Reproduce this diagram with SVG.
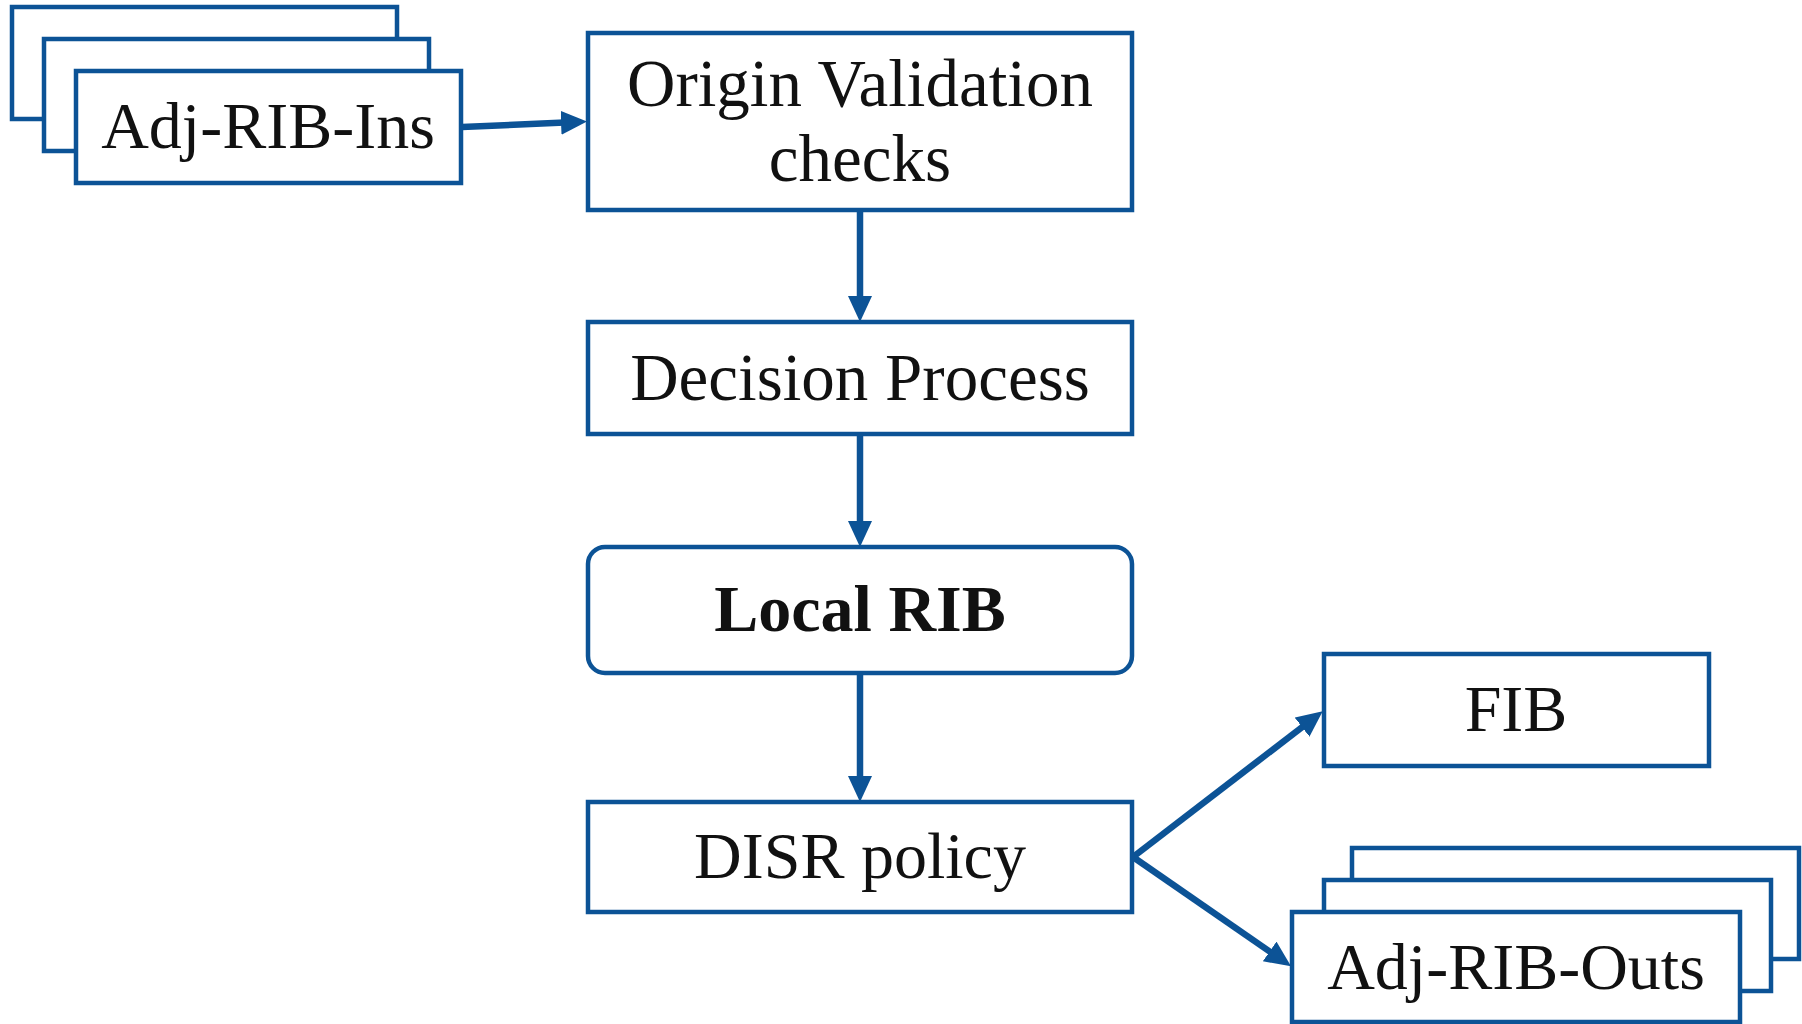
<svg xmlns="http://www.w3.org/2000/svg" width="1802" height="1024" viewBox="0 0 1802 1024">
<style>
.box{fill:#ffffff;stroke:#0C5396;stroke-width:4.5}
.lbl{font-family:"Liberation Serif","Times New Roman",serif;font-size:66px;fill:#111111;text-anchor:middle}
.bold{font-weight:bold}
.conn{stroke:#0C5396;stroke-width:6.5;fill:none}
</style>
<defs>
<marker id="arr" markerUnits="userSpaceOnUse" markerWidth="28" markerHeight="26" refX="15" refY="12" orient="auto">
<path d="M0,0 L26,12 L0,24 z" fill="#0C5396"/>
</marker>
</defs>
<rect width="1802" height="1024" fill="#ffffff"/>
<g id="connectors">
<line class="conn" x1="462" y1="127" x2="576" y2="122" marker-end="url(#arr)"/>
<line class="conn" x1="860" y1="212" x2="860" y2="311" marker-end="url(#arr)"/>
<line class="conn" x1="860" y1="436" x2="860" y2="536" marker-end="url(#arr)"/>
<line class="conn" x1="860" y1="675" x2="860" y2="791" marker-end="url(#arr)"/>
<line class="conn" x1="1133" y1="857" x2="1314" y2="718" marker-end="url(#arr)"/>
<line class="conn" x1="1133" y1="857" x2="1282" y2="960" marker-end="url(#arr)"/>
</g>
<g id="adj-rib-ins">
<rect class="box" x="12" y="7" width="385" height="112"/>
<rect class="box" x="44" y="39" width="385" height="112"/>
<rect class="box" x="76" y="71" width="385" height="112"/>
<text class="lbl" x="268" y="148">Adj-RIB-Ins</text>
</g>
<g id="origin-validation">
<rect class="box" x="588" y="33" width="544" height="177"/>
<text class="lbl" x="860" y="106" style="font-size:67px">Origin Validation</text>
<text class="lbl" x="860" y="181" style="font-size:67px">checks</text>
</g>
<g id="decision-process">
<rect class="box" x="588" y="322" width="544" height="112"/>
<text class="lbl" x="860" y="400" style="font-size:67px">Decision Process</text>
</g>
<g id="local-rib">
<rect class="box" x="588" y="547" width="544" height="126" rx="17" ry="17"/>
<text class="lbl bold" x="860" y="631">Local RIB</text>
</g>
<g id="disr-policy">
<rect class="box" x="588" y="802" width="544" height="110"/>
<text class="lbl" x="860" y="878">DISR policy</text>
</g>
<g id="fib">
<rect class="box" x="1324" y="654" width="385" height="112"/>
<text class="lbl" x="1516" y="731">FIB</text>
</g>
<g id="adj-rib-outs">
<rect class="box" x="1352" y="848" width="447" height="111"/>
<rect class="box" x="1324" y="880" width="447" height="111"/>
<rect class="box" x="1292" y="912" width="448" height="110"/>
<text class="lbl" x="1516" y="989">Adj-RIB-Outs</text>
</g>
</svg>
